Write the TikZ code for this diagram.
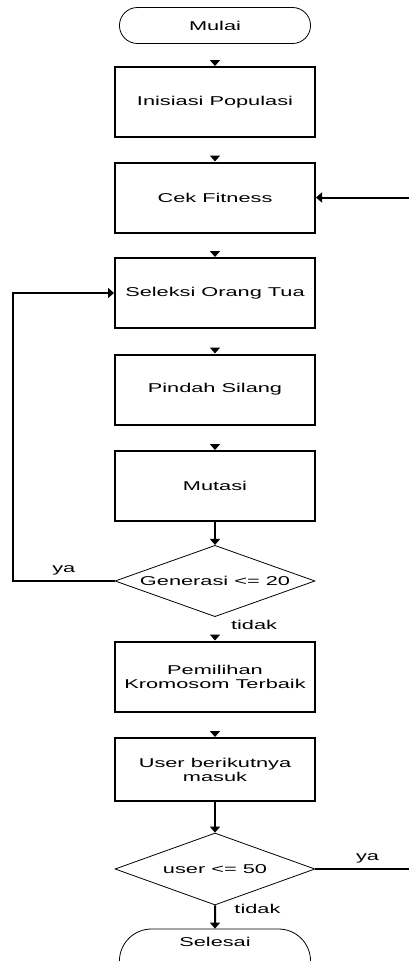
\documentclass[tikz,border=0pt]{standalone}
\usepackage{fontspec}
\setmainfont{Liberation Sans}[FakeStretch=1.7]
\usetikzlibrary{arrows.meta, shapes.geometric, shapes.misc, positioning}

\begin{document}
\begin{tikzpicture}[x=0.75pt, y=-0.75pt]

\tikzset{proses/.style = {rectangle, draw, line width=1.5pt, minimum width=150pt, minimum height=52.5pt, align=center, font=\fontsize{9.6}{10.5}\selectfont}}
\tikzset{terminal/.style = {rounded rectangle, draw, line width=0.6pt, minimum width=150pt, minimum height=27pt, font=\fontsize{9.6}{10.5}\selectfont}}
\tikzset{keputusan/.style = {diamond, draw, line width=0.6pt, aspect=2.76, inner sep=0pt, minimum width=150pt, minimum height=53.5pt, font=\fontsize{9.6}{10.5}\selectfont}}
\tikzset{panah/.style = {-{Triangle[width=7.5pt,length=4.5pt]}, line width=1.5pt}}
\tikzset{ujung/.style = {panah, shorten <=#1}, ujung/.default=15pt}
\tikzset{ket/.style = {font=\fontsize{9.6}{10.5}\selectfont}}

\useasboundingbox (0,0) rectangle (409,961);
% simbol
\node[terminal] (mulai) at (215,25.5) {Mulai};
\node[proses] (inisiasi) at (215,102) {Inisiasi Populasi};
\node[proses] (cek) at (215,197.5) {Cek Fitness};
\node[proses] (seleksi) at (215,293) {Seleksi Orang Tua};
\node[proses] (silang) at (215,389.5) {Pindah Silang};
\node[proses] (mutasi) at (215,486) {Mutasi};
\node[keputusan] (generasi) at (215,581) {Generasi <= 20};
\node[proses] (pemilihan) at (215,676.5) {Pemilihan\\Kromosom Terbaik};
\node[proses, minimum height=47.25pt] (user) at (215,769.5) {User berikutnya\\masuk};
\node[keputusan, minimum height=54pt] (userdec) at (215,869) {user <= 50};
\node[terminal, minimum height=48pt, text height=7pt, text depth=28.5pt] (selesai) at (215,961) {Selesai};
\coordinate (kiri) at (13,581);
\coordinate (masuk) at (409,197.5);
\coordinate (keluar) at (409,869);
% alur
\draw[ujung=13pt] (mulai) -- (inisiasi);
\draw[ujung] (inisiasi) -- (cek);
\draw[ujung] (cek) -- (seleksi);
\draw[ujung] (seleksi) -- (silang);
\draw[ujung] (silang) -- (mutasi);
\draw[panah] (mutasi) -- (generasi);
\draw[panah] (generasi.west) -- node[above, ket] {ya} (kiri) |- (seleksi.west);
\draw[ujung] (generasi) -- node[pos=0.35, right=8pt, ket] {tidak} (pemilihan);
\draw[ujung] (pemilihan) -- (user);
\draw[panah] (user) -- (userdec);
\draw[line width=1.5pt] (userdec.east) -- node[above, xshift=4pt, ket] {ya} (keluar);
\draw[panah] (userdec) -- node[pos=0.15, right=10.5pt, ket] {tidak} (selesai);
\draw[panah] (masuk) -- (cek.east);

\end{tikzpicture}
\end{document}
